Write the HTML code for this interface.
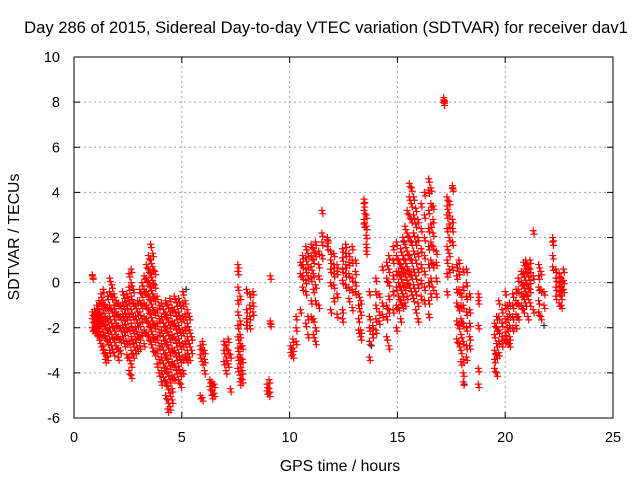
<!DOCTYPE html>
<html><head><meta charset="utf-8"><style>
body{margin:0;background:#fff}
svg{display:block;font-family:"Liberation Sans",sans-serif}
</style></head><body>
<svg id="chart" width="640" height="480" viewBox="0 0 640 480">
<text x="326" y="33" text-anchor="middle" font-size="16.6">Day 286 of 2015, Sidereal Day-to-day VTEC variation (SDTVAR) for receiver dav1</text>
<g id="grid"></g>
<g id="ticks"></g>
<g id="marks"></g>
<rect x="74" y="57" width="539" height="361" fill="none" stroke="#000"/>
<text x="340" y="471" text-anchor="middle" font-size="15.8">GPS time / hours</text>
<text transform="translate(19,237) rotate(-90)" text-anchor="middle" font-size="15.8">SDTVAR / TECUs</text>
</svg>
<script>
const xTicks=[0,5,10,15,20,25];
const yTicks=[-6,-4,-2,0,2,4,6,8,10];
const hours=[0.85,0.95,1.05,1.15,1.25,1.35,1.45,1.55,1.65,1.75,1.85,1.95,2.05,2.15,2.25,2.35,2.45,2.55,2.65,2.75,2.85,2.95,3.05,3.15,3.25,3.35,3.45,3.55,3.65,3.75,3.85,3.95,4.05,4.15,4.25,4.35,4.45,4.55,4.65,4.75,4.85,4.95,5.05,5.15,5.25,5.35,5.45,5.85,5.95,6.05,6.3,6.4,6.5,6.95,7.05,7.15,7.25,7.6,7.7,7.8,8.0,8.15,8.3,8.95,9.05,9.1,10.05,10.15,10.3,10.5,10.6,10.75,10.85,11.0,11.1,11.2,11.35,11.5,11.75,11.9,12.05,12.2,12.45,12.6,12.75,12.9,13.05,13.2,13.3,13.45,13.55,13.7,13.85,14.0,14.15,14.3,14.5,14.6,14.8,14.95,15.05,15.15,15.25,15.35,15.45,15.55,15.65,15.75,15.85,15.95,16.1,16.25,16.45,16.55,16.65,16.8,17.15,17.3,17.4,17.55,17.75,17.85,17.95,18.05,18.2,18.35,18.75,19.5,19.6,19.7,19.85,20.0,20.1,20.2,20.35,20.5,20.6,20.75,20.85,20.95,21.05,21.15,21.3,21.55,21.65,21.8,22.2,22.35,22.5,22.6,22.7];
const values=[[0.35,0.3,-1.3,-1.6,-2.0],[-1.2,-1.5,-1.8,-2.1,-1.4],[-1.0,-1.3,-1.7,-2.2,-1.5,-1.9],[-0.8,-1.2,-1.6,-2.0,-2.4,-1.4],[-0.5,-0.9,-1.4,-1.8,-2.3,-2.7],[-0.3,-0.8,-1.2,-1.7,-2.2,-2.8,-3.0],[-1.0,-1.5,-1.9,-2.4,-3.1,-3.4],[-0.6,-1.1,-1.6,-2.1,-2.6,-3.3],[0.2,-0.4,-1.0,-1.5,-2.0,-2.5,-3.0],[-0.1,-0.6,-1.2,-1.8,-2.3,-2.8],[-0.5,-1.0,-1.5,-2.0,-2.5,-3.1],[-0.8,-1.3,-1.8,-2.3,-2.8],[-0.9,-1.4,-1.9,-2.4,-2.9,-3.3],[-1.0,-1.5,-2.0,-2.5,-3.0],[-0.4,-0.9,-1.4,-1.9,-2.4],[-0.7,-1.2,-1.7,-2.2,-2.7],[-0.5,-1.0,-1.5,-2.0,-2.6,-3.2],[0.4,-0.2,-0.8,-1.4,-2.0,-2.6,-3.3,-3.9],[0.6,0.0,-0.6,-1.2,-1.8,-2.4,-3.0,-3.6,-4.1],[-0.3,-0.9,-1.5,-2.1,-2.7,-3.2],[-1.0,-1.5,-2.0,-2.5,-3.0],[-0.8,-1.3,-1.8,-2.3,-2.9],[-0.3,-0.8,-1.3,-1.8,-2.4,-2.8],[0.0,-0.5,-1.0,-1.6,-2.2],[0.3,-0.3,-0.9,-1.5,-2.1,-2.7],[0.8,0.2,-0.4,-1.0,-1.6,-2.2],[1.2,0.6,0.0,-0.6,-1.2,-1.8,-2.4],[1.7,1.0,0.4,-0.2,-0.8,-1.4,-2.0,-2.6],[1.3,0.7,0.1,-0.5,-1.1,-1.7,-2.3,-2.9],[0.5,-0.1,-0.7,-1.3,-1.9,-2.5,-3.1],[-0.6,-1.2,-1.8,-2.4,-3.0,-3.6],[-1.0,-1.6,-2.2,-2.8,-3.4,-4.0],[-0.9,-1.5,-2.1,-2.7,-3.3,-3.9,-4.4],[-1.2,-1.8,-2.4,-3.0,-3.6,-4.2],[-0.8,-1.4,-2.0,-2.6,-3.2,-3.8,-4.4,-5.0],[-1.0,-1.6,-2.2,-2.8,-3.4,-4.0,-4.6,-5.2,-5.6],[-0.7,-1.3,-1.9,-2.5,-3.1,-3.7,-4.3,-4.9,-5.5],[-1.1,-1.7,-2.3,-2.9,-3.5,-4.1,-4.7,-5.2],[-0.6,-1.2,-1.8,-2.4,-3.0,-3.6,-4.2],[-0.9,-1.5,-2.1,-2.7,-3.3,-3.9],[-0.7,-1.3,-1.9,-2.5,-3.1,-3.7,-4.3],[-1.0,-1.6,-2.2,-2.8,-3.4,-4.0,-4.5],[-0.4,-0.9,-1.5,-2.1,-2.7,-3.3,-3.9],[-0.8,-1.4,-2.0,-2.6,-3.2],[-1.2,-1.8,-2.4,-3.0,-3.4],[-1.5,-2.1,-2.7,-3.3],[-2.4,-3.0],[-2.8,-3.2,-5.0],[-2.6,-3.0,-3.5,-5.1],[-3.0,-3.4,-3.9],[-4.3,-4.6],[-4.4,-4.8,-5.0],[-4.5,-4.9],[-2.6,-3.0,-3.5],[-2.8,-3.3,-3.9],[-2.5,-3.0,-3.6],[-3.2,-4.7],[0.8,0.5,-0.2,-0.8,-1.3,-1.9,-2.4,-2.9,-3.3,-3.8],[-0.6,-1.7,-2.3,-2.7,-3.2,-3.6,-4.1,-4.4],[-2.8,-3.4,-3.9,-4.3],[-0.3,-1.2,-1.6,-1.9],[-0.5,-1.0,-1.5,-1.9],[-0.4,-0.9,-1.3],[-4.5,-4.8],[-4.3,-4.7,-4.9],[0.3,-1.7,-1.8],[-2.8,-3.1],[-2.5,-2.9,-3.2],[-1.5,-2.0,-2.6],[0.9,0.4,-1.2],[1.2,0.8,0.3,-0.2],[1.6,1.1,0.6,0.1,-0.4,-1.8],[1.3,0.8,0.3,-1.5,-2.3],[1.7,1.2,0.7,0.2,-0.8,-1.5],[1.5,1.0,0.4,-0.3,-1.6,-2.3],[1.8,1.3,-0.1,-0.8,-2.0,-2.6],[1.4,0.8,0.3,-1.0],[3.2,2.2,1.8,1.2],[2.0,1.9,1.6],[1.4,1.0,0.6,0.0,-1.2],[1.3,0.8,0.4,-0.1,-0.7],[0.8,0.5,-0.5,-1.4],[1.5,1.1,0.6,0.1,-1.2,-1.6],[1.7,1.3,0.8,0.4,-0.1],[1.3,0.9,0.4,-0.2,-0.7],[1.6,1.0,0.2,-0.3,-1.1],[1.0,0.5,0.0,-0.4],[-0.5,-1.0,-1.6,-2.1],[-0.8,-1.3,-2.1,-2.4],[3.7,3.5,3.2,2.8,2.6],[3.0,2.5,2.1,1.7,1.4],[-0.4,-1.5,-2.0,-2.6,-3.3],[-1.9,-2.3],[0.2,-0.4,-1.0,-1.6,-2.1],[-0.5,-1.3,-1.7],[0.7,-0.9,-1.4],[0.9,0.2,-1.0,-1.5,-2.4],[1.2,0.6,0.0,-0.6,-1.2,-2.8],[1.6,1.0,0.3,-0.4,-1.2],[1.8,1.2,0.5,-0.2,-1.0,-2.0],[1.0,0.5,0.0,-0.6,-1.1],[1.5,0.8,0.3,-0.2,-0.8,-1.6],[2.0,1.2,0.6,0.0,-0.5,-1.0],[2.5,1.7,1.0,0.4,-0.2,-0.9],[3.2,2.2,1.4,0.7,0.1,-0.6],[4.4,3.8,3.0,2.0,1.2,0.5,-0.1],[4.2,3.5,2.8,1.8,1.0,0.3,-0.4],[3.8,3.0,2.2,1.4,0.6,-0.1,-0.7],[3.3,2.6,1.8,1.0,0.3,-0.4,-1.2],[2.8,2.0,1.3,0.6,-0.1,-0.9,-1.6],[3.5,2.4,1.5,0.8,0.1,-0.6],[4.0,3.0,2.0,1.2,0.5,-0.2,-0.8],[4.6,4.1,3.2,2.4,1.6,0.8,0.0,-0.8,-1.4],[4.2,3.5,2.6,1.8,1.0,0.2,-0.5],[3.4,2.8,2.2,1.6,0.8,-0.2],[1.4,0.9,0.2,-0.5],[8.2,8.1,8.0],[3.8,3.4,3.0,2.4,1.6,1.0,0.4,-0.4],[3.6,3.1,2.6,2.0,1.3,0.6],[4.3,4.2,2.8,2.4,1.8,0.7],[0.8,0.3,-0.3,-0.9,-1.7,-2.5],[1.0,0.5,-0.3,-1.1,-1.9,-2.7],[-0.5,-1.0,-1.6,-2.3,-3.0,-3.5],[0.6,-0.2,-1.0,-1.8,-2.6,-3.4,-4.0,-4.4],[0.6,0.0,-0.6,-1.3,-2.0,-2.8,-3.3],[-0.5,-1.2,-1.8,-2.4,-2.8],[-0.5,-0.8,-1.9,-3.8,-4.5],[-1.8,-2.3,-3.0,-3.4,-3.8],[-1.5,-2.0,-2.7,-3.2,-4.0],[-0.8,-1.5,-2.1,-2.6,-3.1],[-1.2,-1.8,-2.4,-2.7],[-0.4,-1.0,-1.6,-2.2,-2.5],[-1.0,-1.5,-2.0,-2.6],[-0.9,-1.4,-1.9,-2.4,-2.7],[-0.5,-1.0,-1.5,-2.0],[-0.3,-0.8,-1.4,-1.9],[0.2,-0.3,-0.9,-1.5],[0.5,0.0,-0.5,-1.0],[0.9,0.4,-0.1,-0.6,-1.2],[1.0,0.6,0.1,-0.4,-0.9],[0.8,0.4,-0.1,-0.6,-1.5],[1.0,0.6,0.1,-0.3,-0.9],[2.3,0.3,-1.2],[0.8,0.3,-0.2,-0.8,-1.3],[0.5,-0.3,-1.5],[-0.4,-1.0],[2.0,1.8,1.2,0.7],[0.6,0.2,-0.2,-0.6],[0.4,0.0,-0.4,-0.9],[0.2,-0.2,-0.6,-1.0],[0.6,0.1,-0.3]];
const blackHours=[5.2,13.8,18.1,21.8,15.3];
const blackValues=[-0.3,-2.8,-4.5,-1.9,1.8];

const NS='http://www.w3.org/2000/svg';
const X0=74,X1=613,Y0=418,Y1=57;
function xs(v){return X0+(v-0)/(25-0)*(X1-X0);}
function ys(v){return Y0-(v+6)/(10+6)*(Y0-Y1);}
function mk(tag,attrs,parent){const e=document.createElementNS(NS,tag);for(const k in attrs)e.setAttribute(k,attrs[k]);parent.appendChild(e);return e;}
const grid=document.getElementById('grid'),ticks=document.getElementById('ticks'),marks=document.getElementById('marks');
xTicks.forEach(t=>{
  const x=xs(t);
  if(t>0&&t<25){const g=mk('line',{x1:x,x2:x,y1:Y0,y2:Y1,stroke:'#a0a0a0','stroke-dasharray':'2,3'},grid);
  
  }
  mk('line',{x1:x,x2:x,y1:Y0,y2:Y0-6,stroke:'#000'},ticks);
  mk('line',{x1:x,x2:x,y1:Y1,y2:Y1+6,stroke:'#000'},ticks);
  const l=mk('text',{x:x,y:442,'text-anchor':'middle','font-size':'14.5'},ticks);
  l.textContent=t;
  
  
});
yTicks.forEach(t=>{
  const y=ys(t);
  if(t>-6&&t<10){const g=mk('line',{x1:X0,x2:X1,y1:y,y2:y,stroke:'#a0a0a0','stroke-dasharray':'2,3'},grid);
  
  }
  mk('line',{x1:X0,x2:X0+6,y1:y,y2:y,stroke:'#000'},ticks);
  mk('line',{x1:X1,x2:X1-6,y1:y,y2:y,stroke:'#000'},ticks);
  const l=mk('text',{x:60,y:y+5,'text-anchor':'end','font-size':'14.5'},ticks);
  l.textContent=t;
  
  
});
function cross(h,v,color){
  const x=xs(h),y=ys(v);
  const p=mk('path',{d:`M${x-3.5},${y}H${x+3.5}M${x},${y-3.5}V${y+3.5}`,stroke:color,'stroke-width':'1.2',fill:'none'},marks);
  return p;
}
blackHours.forEach((h,i)=>{
  const p=cross(h,blackValues[i],'#333');
  
  
});
hours.forEach((h,i)=>{
  values[i].forEach(v=>{
    const p=cross(h,v,'#ff0000');
    
    
    const p2=cross(h+0.04,v-0.15,'#ff0000');
    
    
  });
});
</script>
</body></html>
